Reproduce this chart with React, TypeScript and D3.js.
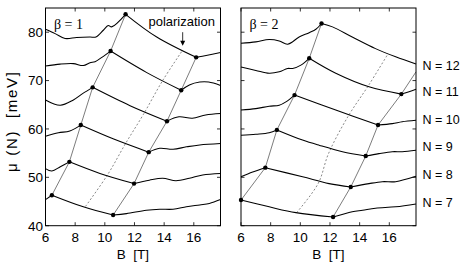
import React, { useEffect, useRef } from 'react'
import * as d3 from 'd3'

type Pt = [number, number]

// chemical potential curves, beta = 1 (B in T, mu in meV)
const b1N7: Pt[] = [[6, 45.4], [6.43, 46.3], [8.55, 43.9], [10.56, 42.2], [11.46, 42.5], [12.8, 43.2], [13.7, 43.4], [14.6, 43.4], [15.5, 43.9], [16.4, 44.3], [17.05, 44.6], [17.8, 45.4]]
const b1N8: Pt[] = [[6, 51.8], [6.43, 51.3], [7.0, 52.2], [7.61, 53.2], [9.67, 50.8], [11.97, 48.7], [13.0, 49.4], [13.9, 49.8], [14.8, 49.3], [15.7, 49.8], [16.6, 50.5], [17.8, 50.8]]
const b1N9: Pt[] = [[6, 58.5], [6.87, 59.2], [7.64, 59.6], [8.38, 60.8], [10.6, 57.9], [12.96, 55.2], [13.7, 56.0], [14.6, 55.8], [15.5, 56.3], [16.4, 56.7], [17.8, 57.0]]
const b1N10: Pt[] = [[6, 66.0], [6.99, 64.9], [7.88, 66.0], [8.5, 67.3], [9.18, 68.6], [11.7, 64.8], [14.19, 61.6], [15.0, 62.5], [15.9, 62.2], [16.8, 62.9], [17.8, 63.2]]
const b1N11: Pt[] = [[6, 73.0], [6.99, 73.4], [7.88, 73.5], [8.55, 73.1], [9.0, 73.7], [9.34, 73.9], [9.8, 74.8], [10.39, 76.1], [12.8, 71.7], [15.15, 68.0], [15.7, 69.1], [16.4, 69.7], [17.0, 69.7], [17.8, 69.0]]
const b1N12: Pt[] = [[6, 80.6], [6.65, 79.7], [7.32, 78.7], [8.1, 78.9], [9.0, 79.0], [9.4, 79.0], [9.9, 80.4], [10.23, 81.4], [10.46, 81.1], [11.4, 83.7], [13.5, 79.0], [16.16, 74.8], [16.83, 75.2], [17.8, 75.8]]

// beta = 2
const b2N7: Pt[] = [[6, 45.3], [7.9, 43.9], [9.7, 42.7], [12.21, 41.8], [13.5, 42.9], [14.2, 43.2], [15.07, 43.6], [16.43, 43.9], [17.8, 44.5]]
const b2N8: Pt[] = [[6, 50.1], [6.79, 51.1], [7.64, 52.0], [10.15, 50.1], [11.94, 48.7], [13.4, 48.0], [14.63, 48.7], [15.53, 49.1], [16.43, 49.1], [17.8, 50.2]]
const b2N9: Pt[] = [[6, 58.7], [7.0, 58.9], [7.9, 59.2], [8.42, 59.8], [10.15, 57.7], [11.3, 56.6], [12.84, 55.3], [14.41, 54.4], [15.3, 54.9], [16.2, 55.3], [16.87, 55.3], [17.8, 55.6]]
const b2N10: Pt[] = [[6, 63.9], [7.0, 64.2], [7.9, 64.7], [8.58, 64.9], [9.03, 65.6], [9.61, 67.0], [12.39, 63.9], [15.24, 60.8], [16.2, 61.1], [16.87, 61.5], [17.8, 61.8]]
const b2N11: Pt[] = [[6, 72.8], [7.0, 72.1], [7.9, 71.5], [8.58, 71.8], [9.14, 72.5], [9.48, 72.5], [10.04, 73.2], [10.6, 74.6], [12.39, 71.5], [14.63, 68.7], [16.81, 67.2], [17.33, 67.7], [17.8, 68.2]]
const b2N12: Pt[] = [[6, 77.7], [7.0, 78.0], [7.9, 78.5], [8.58, 78.2], [9.14, 77.5], [9.92, 79.0], [10.6, 79.9], [11.05, 80.6], [11.43, 81.8], [12.17, 81.1], [13.5, 79.0], [15.07, 76.6], [16.43, 74.9], [17.8, 73.4]]

// transition points
const b1LeftDots: Pt[] = [[6.43, 46.3], [7.61, 53.2], [8.38, 60.8], [9.18, 68.6], [10.39, 76.1], [11.4, 83.7]]
const b1RightDots: Pt[] = [[10.56, 42.2], [11.97, 48.7], [12.96, 55.2], [14.19, 61.6], [15.15, 68.0], [16.16, 74.8]]
const b2LeftDots: Pt[] = [[6, 45.3], [7.64, 52.0], [8.42, 59.8], [9.61, 67.0], [10.6, 74.6], [11.43, 81.8]]
const b2RightDots: Pt[] = [[12.21, 41.8], [13.4, 48.0], [14.41, 54.4], [15.24, 60.8], [16.81, 67.2]]
const b2RightEdge: Pt[] = [[17.8, 71.8]]

// polarization lines
const b1Dashed: Pt[] = [[8.7, 44.0], [10.2, 50.6], [11.4, 57.0], [12.6, 63.0], [13.9, 70.0], [15.25, 76.3]]
const b2Dashed: Pt[] = [[9.75, 42.7], [11.2, 48.7], [11.9, 54.9], [13.2, 62.5], [14.6, 69.0], [15.85, 75.2]]

const xTicks = [6, 8, 10, 12, 14, 16]
const yTicks = [40, 50, 60, 70, 80]
const nLabels = ['N = 7', 'N = 8', 'N = 9', 'N = 10', 'N = 11', 'N = 12']
const nLabelMu = [44.75, 50.5, 56.3, 62.0, 67.7, 73.2]
const arrowTip: Pt = [15.25, 77.2]
const arrowTail: Pt = [15.25, 80.0]

const W = 463
const H = 266
const sans = 'Liberation Sans, Arial, Helvetica, sans-serif'
const serif = 'Liberation Serif, Times New Roman, serif'

export default function App() {
	const ref = useRef<SVGSVGElement>(null)

	useEffect(() => {
		const svg = d3.select(ref.current)
		svg.selectAll('*').remove()

		const y = d3.scaleLinear().domain([40, 85]).range([225.7, 8])
		const x1 = d3.scaleLinear().domain([6, 17.8]).range([45.5, 220.5])
		const x2 = d3.scaleLinear().domain([6, 17.8]).range([241, 416])

		const panels = [
			{ x: x1, curves: [b1N7, b1N8, b1N9, b1N10, b1N11, b1N12], left: b1LeftDots, right: b1RightDots, rightLine: b1RightDots, dashed: b1Dashed, beta: 'β = 1', labels: true },
			{ x: x2, curves: [b2N7, b2N8, b2N9, b2N10, b2N11, b2N12], left: b2LeftDots, right: b2RightDots, rightLine: b2RightDots.concat(b2RightEdge), dashed: b2Dashed, beta: 'β = 2', labels: false },
		]

		panels.forEach(p => {
			const g = svg.append('g')
			const [xa, xb] = p.x.range()
			const [yb, ya] = y.range()
			const dots = p.left.concat(p.right)
			const isDot = (q: Pt) => dots.some(d => d[0] === q[0] && d[1] === q[1])

			const smooth = d3.line<Pt>().x(d => p.x(d[0])).y(d => y(d[1])).curve(d3.curveCatmullRom.alpha(0.5))
			const straight = d3.line<Pt>().x(d => p.x(d[0])).y(d => y(d[1]))

			// transition lines
			;[p.left, p.rightLine].forEach(l => {
				g.append('path').attr('d', straight(l)).attr('fill', 'none').attr('stroke', '#444').attr('stroke-width', 0.7)
			})
			g.append('path').attr('d', smooth(p.dashed)).attr('fill', 'none').attr('stroke', '#555')
				.attr('stroke-width', 0.7).attr('stroke-dasharray', '2,2')

			// curves, split at the kinks
			p.curves.forEach(c => {
				const segs: Pt[][] = []
				let cur: Pt[] = []
				c.forEach(q => {
					cur.push(q)
					if (isDot(q) && cur.length > 1) {
						segs.push(cur)
						cur = [q]
					}
				})
				if (cur.length > 1) segs.push(cur)
				segs.forEach(s => {
					g.append('path').attr('d', smooth(s)).attr('fill', 'none').attr('stroke', '#000').attr('stroke-width', 1.05)
				})
			})

			g.selectAll('circle.dot').data(dots).enter().append('circle')
				.attr('cx', d => p.x(d[0])).attr('cy', d => y(d[1])).attr('r', 2.2).attr('fill', '#000')

			// frame and inside ticks
			g.append('rect').attr('x', xa).attr('y', ya).attr('width', xb - xa).attr('height', yb - ya)
				.attr('fill', 'none').attr('stroke', '#000').attr('stroke-width', 1)
			const tl = 3.5
			xTicks.forEach(t => {
				const px = p.x(t)
				g.append('line').attr('x1', px).attr('x2', px).attr('y1', yb).attr('y2', yb - tl).attr('stroke', '#000').attr('stroke-width', 0.8)
				g.append('line').attr('x1', px).attr('x2', px).attr('y1', ya).attr('y2', ya + tl).attr('stroke', '#000').attr('stroke-width', 0.8)
				g.append('text').attr('x', px).attr('y', 241.5).attr('text-anchor', 'middle')
					.attr('font-family', sans).attr('font-size', 13.5).text(t)
			})
			yTicks.forEach(t => {
				const py = y(t)
				g.append('line').attr('x1', xa).attr('x2', xa + tl).attr('y1', py).attr('y2', py).attr('stroke', '#000').attr('stroke-width', 0.8)
				g.append('line').attr('x1', xb).attr('x2', xb - tl).attr('y1', py).attr('y2', py).attr('stroke', '#000').attr('stroke-width', 0.8)
				if (p.labels) {
					g.append('text').attr('x', xa - 2.5).attr('y', py).attr('dy', '0.36em').attr('text-anchor', 'end')
						.attr('font-family', sans).attr('font-size', 13.5).text(t)
				}
			})

			g.append('text').attr('x', (xa + xb) / 2).attr('y', 258.5).attr('text-anchor', 'middle')
				.attr('font-family', sans).attr('font-size', 13.5).attr('xml:space', 'preserve').text('B  [T]')
			g.append('text').attr('x', xa + 8.5).attr('y', 29).attr('font-family', serif).attr('font-size', 14).text(p.beta)
		})

		// polarization arrow
		const ax = x1(arrowTip[0])
		svg.append('line').attr('x1', ax).attr('x2', ax).attr('y1', y(arrowTail[1])).attr('y2', y(arrowTip[1]) - 4)
			.attr('stroke', '#000').attr('stroke-width', 0.8)
		const ty = y(arrowTip[1])
		svg.append('path').attr('d', `M${ax - 2.5},${ty - 5}L${ax + 2.5},${ty - 5}L${ax},${ty}Z`).attr('fill', '#000')
		svg.append('text').attr('x', ax - 1).attr('y', 26).attr('text-anchor', 'middle')
			.attr('font-family', sans).attr('font-size', 13).text('polarization')

		// N labels on the right
		nLabels.forEach((n, i) => {
			svg.append('text').attr('x', 422.5).attr('y', y(nLabelMu[i])).attr('dy', '0.36em')
				.attr('font-family', sans).attr('font-size', 12.5).text(n)
		})

		// y axis label
		svg.append('text').attr('transform', `translate(17,122) rotate(-90)`).attr('text-anchor', 'middle')
			.attr('font-family', sans).attr('font-size', 15).attr('textLength', 100).attr('lengthAdjust', 'spacing')
			.attr('xml:space', 'preserve').text('μ (N)  [meV]')
	}, [])

	return (
		<svg
			ref={ref}
			width={W}
			height={H}
			style={{ position: 'absolute', left: 0, top: 0, background: '#fff' }}
		></svg>
	)
}
